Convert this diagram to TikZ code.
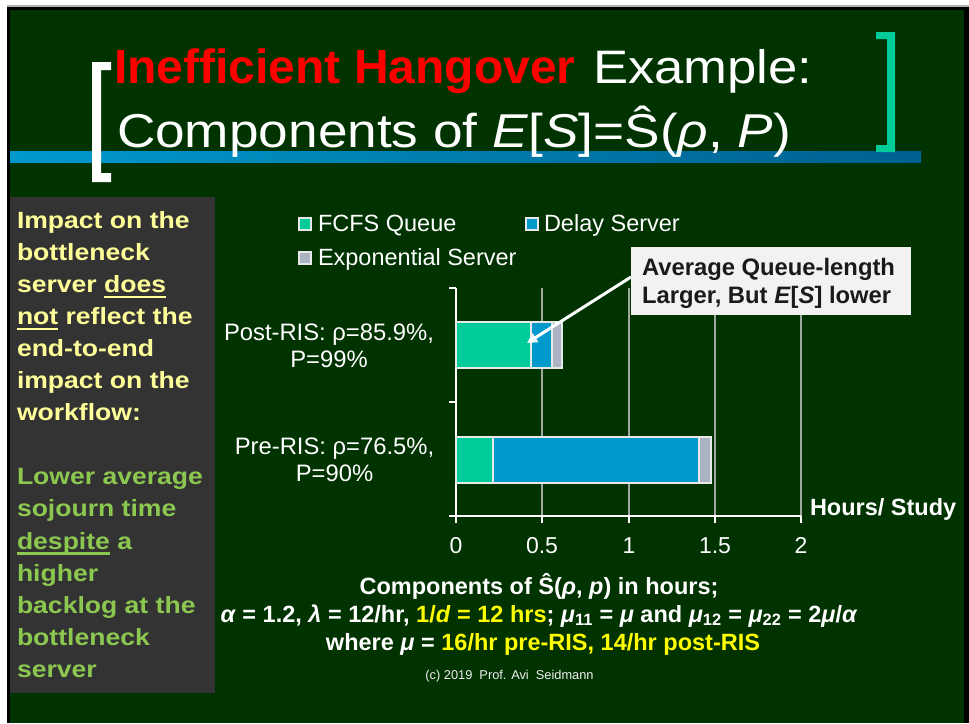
\documentclass[tikz,border=0pt]{standalone}
\usepackage{fontspec}
\setmainfont{Liberation Sans}
\newfontfamily\widefont[FakeStretch=1.12]{Liberation Sans}
\newfontfamily\panelfont[FakeStretch=1.13]{Liberation Sans}
\usetikzlibrary{arrows.meta}
\definecolor{bg}{HTML}{003300}
\definecolor{panelbg}{HTML}{333333}
\definecolor{cteal}{HTML}{00CC99}
\definecolor{cblue}{HTML}{0099CC}
\definecolor{cgray}{HTML}{AAB4C3}
\definecolor{lineL}{HTML}{0099CC}
\definecolor{lineR}{HTML}{006090}
\definecolor{ptyellow}{HTML}{FFFF99}
\definecolor{ptgreen}{HTML}{8CC850}
\definecolor{byellow}{HTML}{FFFF00}
\definecolor{gridc}{HTML}{9EA89E}
\definecolor{callbg}{HTML}{F2F2F2}
\definecolor{calltxt}{HTML}{1A1A1A}
\newcommand{\fs}[1]{\fontsize{#1}{#1}\selectfont}
\newcommand{\myul}[1]{\setbox0\hbox{#1}\rlap{\rule[-5.5pt]{\wd0}{2.2pt}}\box0\relax}
\begin{document}
\begin{tikzpicture}[x=1pt,y=-1pt,
  txt/.style={inner sep=0pt, outer sep=0pt, text=white},
  ptxt/.style={txt, anchor=base west, font=\fs{23.5}\panelfont\bfseries},
  grid/.style={draw=gridc, line width=1.4pt},
  axisl/.style={draw=white, line width=1.3pt},
  barline/.style={draw=white!82!gray, line width=1.2pt},
  legtxt/.style={txt, anchor=base west, font=\fs{23.5}},
  ticktxt/.style={txt, anchor=base, font=\fs{23}},
  cattxt/.style={txt, anchor=base, font=\fs{23.8}},
  bottxt/.style={txt, anchor=base, font=\fs{23.5}\bfseries}]
\useasboundingbox (0,0) rectangle (969,723);
% frame
\fill[white] (0,0) rectangle (969,723);
\fill[gray!60] (7,5) rectangle (969,7);
\fill[black] (7,7) rectangle (969,723);
\fill[bg] (10,10) rectangle (964,723);
% title rule
\shade[left color=lineL, right color=lineR] (10,151) rectangle (921,162);
% title text
\node[txt, anchor=base west, text=red] (t1) at (114,83) {\fs{48}\bfseries Inefficient Hangover};
\node[txt, anchor=base west] (t2) at (593,83) {\fs{47}\widefont Example:};
\node[txt, anchor=base west] (t3) at (117,147) {\fs{47.5}\widefont Components of \textit{E}[\textit{S}]=Ŝ(\textit{ρ}, \textit{P})};
% brackets
\fill[white] (92,62) -- (111,62) -- (111,70) -- (101,70) -- (101,173) -- (111,173) -- (111,182) -- (92,182) -- cycle;
\fill[cteal] (876,32) -- (895,32) -- (895,152) -- (876,152) -- (876,145) -- (887,145) -- (887,39) -- (876,39) -- cycle;
% left panel
\fill[panelbg] (10,197) rectangle (215,693);
\begin{scope}[every node/.style={ptxt, text=ptyellow}]
\node (p1) at (17,228.5) {Impact on the};
\node (p2) at (17,260.5) {bottleneck};
\node (p3) at (17,292.6) {server \myul{does}};
\node (p4) at (17,324.6) {\myul{not} reflect the};
\node (p5) at (17,356.7) {end-to-end};
\node (p6) at (17,388.7) {impact on the};
\node (p7) at (17,420.8) {workflow:};
\end{scope}
\begin{scope}[every node/.style={ptxt, text=ptgreen}]
\node (g1) at (17,484.9) {Lower average};
\node (g2) at (17,516.9) {sojourn time};
\node (g3) at (17,549.0) {\myul{despite} a};
\node (g4) at (17,581.0) {higher};
\node (g5) at (17,613.1) {backlog at the};
\node (g6) at (17,645.1) {bottleneck};
\node (g7) at (17,677.2) {server};
\end{scope}
% legend
\fill[cteal] (299,218) rectangle (311,230);
\draw[barline] (299,218) rectangle (311,230);
\fill[cblue] (526,218) rectangle (538,230);
\draw[barline] (526,218) rectangle (538,230);
\fill[cgray] (299,252) rectangle (311,264);
\draw[barline] (299,252) rectangle (311,264);
\node[legtxt] (l1) at (318,231) {FCFS Queue};
\node[legtxt] (l2) at (544,231) {Delay Server};
\node[legtxt] (l3) at (318,265) {Exponential Server};
% grid and axes
\foreach \x in {542,629,715,801} \draw[grid] (\x,288) -- (\x,516);
\draw[axisl] (456,288) -- (456,523);
\draw[axisl] (449,516) -- (801,516);
\foreach \y in {288,402} \draw[axisl] (449,\y) -- (456,\y);
\foreach \x in {542,629,715,801} \draw[axisl] (\x,516) -- (\x,523);
% bars post
\fill[cteal] (456,322) rectangle (531,368);
\fill[cblue] (531,322) rectangle (552,368);
\fill[cgray] (552,322) rectangle (562,368);
\draw[barline] (456,322) rectangle (562,368);
\draw[barline] (531,322) -- (531,368);
\draw[barline] (552,322) -- (552,368);
% bars pre
\fill[cteal] (456,437) rectangle (493,483);
\fill[cblue] (493,437) rectangle (699,483);
\fill[cgray] (699,437) rectangle (711,483);
\draw[barline] (456,437) rectangle (711,483);
\draw[barline] (493,437) -- (493,483);
\draw[barline] (699,437) -- (699,483);
% category labels
\node[cattxt] (c1) at (329,340) {Post-RIS: ρ=85.9\%,};
\node[cattxt] (c2) at (329,367) {P=99\%};
\node[cattxt] (c3) at (334.5,454) {Pre-RIS: ρ=76.5\%,};
\node[cattxt] (c4) at (334.5,481) {P=90\%};
% tick labels
\node[ticktxt] (x0) at (456,553) {0};
\node[ticktxt] (x1) at (542,553) {0.5};
\node[ticktxt] (x2) at (629,553) {1};
\node[ticktxt] (x3) at (715,553) {1.5};
\node[ticktxt] (x4) at (801,553) {2};
\node[txt, anchor=base west, font=\fs{23.5}\bfseries] (hs) at (810,515) {Hours/ Study};
% callout
\coordinate (tip) at (527,343);
\node[fill=callbg, inner sep=0pt, outer sep=0pt, minimum width=280pt, minimum height=68pt, anchor=north west] (call) at (631,247) {};
\draw[white, line width=3pt, -{Triangle[width=10pt,length=10pt]}] ([yshift=4pt]call.west) -- (tip);
\node[txt, text=calltxt, anchor=base west, font=\fs{23.8}\bfseries] (cl1) at (642,275) {Average Queue-length};
\node[txt, text=calltxt, anchor=base west, font=\fs{23.8}\bfseries] (cl2) at (642,303) {Larger, But \textit{E}[\textit{S}] lower};
% bottom text
\node[bottxt] (b1) at (539,594) {Components of Ŝ(\textit{ρ}, \textit{p}) in hours;};
\node[bottxt] (b2) at (539,622) {\textit{α} = 1.2, \textit{λ} = 12/hr, \textcolor{byellow}{1/\textit{d} = 12 hrs}; \textit{μ}\textsubscript{11} = \textit{μ} and \textit{μ}\textsubscript{12} = \textit{μ}\textsubscript{22} = 2\textit{μ}/\textit{α}};
\node[bottxt] (b3) at (543,650) {where \textit{μ} = \textcolor{byellow}{16/hr pre-RIS, 14/hr post-RIS}};
\node[txt, anchor=base, font=\fs{12.8}, text=white!88!gray] (cp) at (509.5,679) {(c) 2019~~Prof. Avi~~Seidmann};
\end{tikzpicture}
\end{document}
